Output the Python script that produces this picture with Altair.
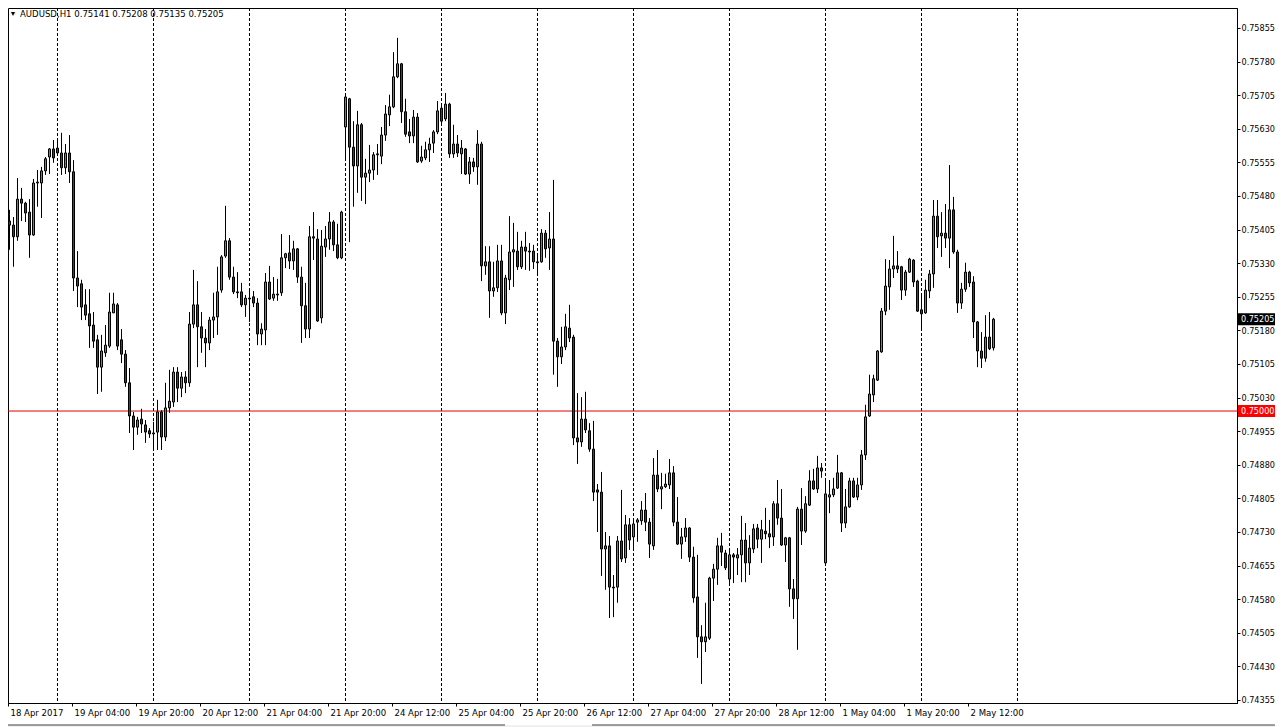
import altair as alt
import pandas as pd

symbol = "AUDUSD,H1"

x_labels = ["18 Apr 2017", "19 Apr 04:00", "19 Apr 20:00", "20 Apr 12:00", "21 Apr 04:00",
            "21 Apr 20:00", "24 Apr 12:00", "25 Apr 04:00", "25 Apr 20:00", "26 Apr 12:00",
            "27 Apr 04:00", "27 Apr 20:00", "28 Apr 12:00", "1 May 04:00", "1 May 20:00",
            "2 May 12:00"]

day_starts = [12, 36, 60, 84, 108, 132, 156, 180, 204, 228, 252]

y_ticks = [0.74355, 0.74430, 0.74505, 0.74580, 0.74655, 0.74730, 0.74805, 0.74880,
           0.74955, 0.75030, 0.75105, 0.75180, 0.75255, 0.75330, 0.75405, 0.75480,
           0.75555, 0.75630, 0.75705, 0.75780, 0.75855]

level_price = 0.75000

opens = [
    0.75424, 0.75415, 0.75389, 0.75473, 0.75464, 0.75444, 0.75393, 0.75509, 0.75509, 0.75536,
    0.75567, 0.75585, 0.75587, 0.75576, 0.75543, 0.75576, 0.75534, 0.75297, 0.75284, 0.75237,
    0.75217, 0.75192, 0.75159, 0.75098, 0.75130, 0.75145, 0.75219, 0.75237, 0.75159, 0.75127,
    0.75063, 0.74989, 0.74964, 0.74982, 0.74969, 0.74956, 0.74949, 0.74953, 0.74998, 0.74942,
    0.75007, 0.75020, 0.75087, 0.75051, 0.75076, 0.75063, 0.75194, 0.75237, 0.75188, 0.75163,
    0.75152, 0.75203, 0.75210, 0.75270, 0.75346, 0.75380, 0.75299, 0.75266, 0.75266, 0.75237,
    0.75252, 0.75255, 0.75241, 0.75172, 0.75181, 0.75288, 0.75252, 0.75261, 0.75264, 0.75342,
    0.75353, 0.75335, 0.75362, 0.75299, 0.75235, 0.75183, 0.75389, 0.75384, 0.75208, 0.75366,
    0.75384, 0.75422, 0.75371, 0.75342, 0.75634, 0.75697, 0.75589, 0.75547, 0.75639, 0.75522,
    0.75531, 0.75538, 0.75572, 0.75569, 0.75616, 0.75661, 0.75679, 0.75746, 0.75775, 0.75668,
    0.75623, 0.75614, 0.75656, 0.75558, 0.75565, 0.75583, 0.75598, 0.75623, 0.75676, 0.75652,
    0.75685, 0.75574, 0.75596, 0.75574, 0.75585, 0.75529, 0.75556, 0.75545, 0.75596, 0.75324,
    0.75333, 0.75268, 0.75275, 0.75335, 0.75219, 0.75293, 0.75355, 0.75357, 0.75322, 0.75366,
    0.75357, 0.75357, 0.75333, 0.75333, 0.75397, 0.75364, 0.75384, 0.75156, 0.75121, 0.75143,
    0.75185, 0.75165, 0.74940, 0.74931, 0.74982, 0.74956, 0.74915, 0.74824, 0.74819, 0.74692,
    0.74699, 0.74607, 0.74607, 0.74710, 0.74672, 0.74746, 0.74719, 0.74752, 0.74755, 0.74779,
    0.74752, 0.74699, 0.74857, 0.74826, 0.74831, 0.74835, 0.74862, 0.74752, 0.74703, 0.74719,
    0.74739, 0.74674, 0.74585, 0.74496, 0.74485, 0.74493, 0.74627, 0.74647, 0.74699, 0.74683,
    0.74625, 0.74679, 0.74672, 0.74679, 0.74712, 0.74661, 0.74692, 0.74739, 0.74714, 0.74732,
    0.74726, 0.74719, 0.74793, 0.74761, 0.74701, 0.74717, 0.74603, 0.74581, 0.74781, 0.74732,
    0.74790, 0.74844, 0.74826, 0.74873, 0.74661, 0.74808, 0.74813, 0.74828, 0.74862, 0.74750,
    0.74786, 0.74844, 0.74808, 0.74835, 0.74902, 0.74989, 0.75036, 0.75069, 0.75132, 0.75223,
    0.75277, 0.75317, 0.75324, 0.75322, 0.75270, 0.75310, 0.75337, 0.75290, 0.75226, 0.75219,
    0.75268, 0.75306, 0.75435, 0.75391, 0.75397, 0.75386, 0.75449, 0.75355, 0.75241, 0.75272,
    0.75310, 0.75288, 0.75199, 0.75134, 0.75118, 0.75165, 0.75141,
]

highs = [
    0.75449, 0.75433, 0.75520, 0.75498, 0.75467, 0.75473, 0.75518, 0.75538, 0.75545, 0.75567,
    0.75587, 0.75605, 0.75605, 0.75621, 0.75596, 0.75616, 0.75560, 0.75357, 0.75293, 0.75272,
    0.75272, 0.75221, 0.75170, 0.75170, 0.75192, 0.75264, 0.75264, 0.75241, 0.75183, 0.75136,
    0.75096, 0.74998, 0.74987, 0.75005, 0.74980, 0.74962, 0.74976, 0.75025, 0.75002, 0.75063,
    0.75092, 0.75098, 0.75098, 0.75087, 0.75089, 0.75221, 0.75315, 0.75290, 0.75221, 0.75183,
    0.75210, 0.75264, 0.75322, 0.75348, 0.75458, 0.75386, 0.75322, 0.75310, 0.75286, 0.75259,
    0.75270, 0.75268, 0.75252, 0.75196, 0.75308, 0.75324, 0.75299, 0.75295, 0.75395, 0.75353,
    0.75393, 0.75380, 0.75364, 0.75322, 0.75286, 0.75413, 0.75444, 0.75406, 0.75404, 0.75413,
    0.75444, 0.75426, 0.75418, 0.75447, 0.75706, 0.75699, 0.75647, 0.75670, 0.75643, 0.75563,
    0.75594, 0.75578, 0.75596, 0.75634, 0.75683, 0.75706, 0.75801, 0.75833, 0.75777, 0.75697,
    0.75652, 0.75672, 0.75665, 0.75592, 0.75601, 0.75610, 0.75627, 0.75692, 0.75681, 0.75710,
    0.75688, 0.75639, 0.75616, 0.75605, 0.75587, 0.75567, 0.75565, 0.75627, 0.75601, 0.75368,
    0.75368, 0.75333, 0.75371, 0.75371, 0.75304, 0.75435, 0.75420, 0.75400, 0.75380, 0.75400,
    0.75375, 0.75371, 0.75348, 0.75406, 0.75404, 0.75444, 0.75516, 0.75163, 0.75188, 0.75217,
    0.75237, 0.75170, 0.75040, 0.75031, 0.75043, 0.74973, 0.74978, 0.74837, 0.74864, 0.74730,
    0.74721, 0.74634, 0.74721, 0.74824, 0.74768, 0.74761, 0.74761, 0.74761, 0.74799, 0.74817,
    0.74761, 0.74895, 0.74913, 0.74862, 0.74860, 0.74893, 0.74877, 0.74808, 0.74739, 0.74761,
    0.74741, 0.74697, 0.74679, 0.74522, 0.74572, 0.74630, 0.74659, 0.74717, 0.74728, 0.74690,
    0.74694, 0.74683, 0.74694, 0.74766, 0.74750, 0.74723, 0.74748, 0.74748, 0.74757, 0.74784,
    0.74757, 0.74799, 0.74846, 0.74826, 0.74719, 0.74719, 0.74625, 0.74786, 0.74828, 0.74810,
    0.74868, 0.74871, 0.74900, 0.74884, 0.74846, 0.74846, 0.74851, 0.74902, 0.74864, 0.74826,
    0.74851, 0.74851, 0.74851, 0.74913, 0.75014, 0.75081, 0.75081, 0.75136, 0.75230, 0.75339,
    0.75337, 0.75391, 0.75357, 0.75324, 0.75315, 0.75342, 0.75339, 0.75293, 0.75257, 0.75293,
    0.75315, 0.75471, 0.75471, 0.75444, 0.75462, 0.75549, 0.75478, 0.75360, 0.75286, 0.75331,
    0.75313, 0.75301, 0.75201, 0.75176, 0.75214, 0.75221, 0.75208,
]

lows = [
    0.75360, 0.75322, 0.75380, 0.75424, 0.75422, 0.75342, 0.75391, 0.75456, 0.75431, 0.75527,
    0.75529, 0.75554, 0.75572, 0.75527, 0.75529, 0.75509, 0.75268, 0.75232, 0.75203, 0.75203,
    0.75141, 0.75141, 0.75038, 0.75043, 0.75121, 0.75141, 0.75219, 0.75136, 0.75107, 0.75054,
    0.74951, 0.74913, 0.74947, 0.74951, 0.74929, 0.74940, 0.74913, 0.74913, 0.74913, 0.74933,
    0.74996, 0.75009, 0.75020, 0.75031, 0.75040, 0.75054, 0.75185, 0.75098, 0.75130, 0.75098,
    0.75136, 0.75163, 0.75170, 0.75264, 0.75342, 0.75293, 0.75261, 0.75252, 0.75232, 0.75210,
    0.75199, 0.75232, 0.75147, 0.75147, 0.75147, 0.75248, 0.75246, 0.75246, 0.75257, 0.75319,
    0.75317, 0.75315, 0.75286, 0.75152, 0.75163, 0.75163, 0.75337, 0.75199, 0.75196, 0.75344,
    0.75360, 0.75357, 0.75339, 0.75339, 0.75560, 0.75377, 0.75456, 0.75487, 0.75469, 0.75462,
    0.75511, 0.75516, 0.75527, 0.75551, 0.75603, 0.75636, 0.75676, 0.75743, 0.75643, 0.75612,
    0.75598, 0.75598, 0.75554, 0.75554, 0.75560, 0.75556, 0.75576, 0.75618, 0.75639, 0.75647,
    0.75565, 0.75565, 0.75567, 0.75529, 0.75527, 0.75507, 0.75534, 0.75505, 0.75290, 0.75304,
    0.75208, 0.75255, 0.75266, 0.75214, 0.75194, 0.75270, 0.75277, 0.75315, 0.75317, 0.75315,
    0.75313, 0.75317, 0.75306, 0.75331, 0.75342, 0.75315, 0.75081, 0.75054, 0.75105, 0.75136,
    0.75154, 0.74924, 0.74882, 0.74920, 0.74951, 0.74909, 0.74799, 0.74730, 0.74632, 0.74601,
    0.74538, 0.74540, 0.74572, 0.74663, 0.74661, 0.74690, 0.74688, 0.74708, 0.74746, 0.74732,
    0.74672, 0.74690, 0.74819, 0.74781, 0.74828, 0.74826, 0.74743, 0.74701, 0.74670, 0.74708,
    0.74663, 0.74572, 0.74449, 0.74391, 0.74462, 0.74489, 0.74576, 0.74612, 0.74654, 0.74645,
    0.74614, 0.74616, 0.74634, 0.74618, 0.74618, 0.74634, 0.74683, 0.74694, 0.74661, 0.74714,
    0.74694, 0.74699, 0.74746, 0.74699, 0.74663, 0.74563, 0.74536, 0.74467, 0.74701, 0.74728,
    0.74788, 0.74824, 0.74817, 0.74851, 0.74656, 0.74772, 0.74808, 0.74826, 0.74730, 0.74739,
    0.74784, 0.74806, 0.74801, 0.74824, 0.74891, 0.74987, 0.75020, 0.75067, 0.75130, 0.75214,
    0.75226, 0.75297, 0.75308, 0.75248, 0.75257, 0.75308, 0.75277, 0.75221, 0.75181, 0.75217,
    0.75252, 0.75275, 0.75364, 0.75344, 0.75364, 0.75319, 0.75351, 0.75219, 0.75228, 0.75266,
    0.75277, 0.75163, 0.75098, 0.75096, 0.75110, 0.75136, 0.75135,
]

closes = [
    0.75415, 0.75389, 0.75473, 0.75464, 0.75442, 0.75393, 0.75509, 0.75511, 0.75536, 0.75563,
    0.75585, 0.75565, 0.75576, 0.75543, 0.75576, 0.75534, 0.75297, 0.75279, 0.75232, 0.75214,
    0.75190, 0.75156, 0.75098, 0.75134, 0.75147, 0.75221, 0.75239, 0.75145, 0.75127, 0.75063,
    0.74989, 0.74964, 0.74980, 0.74971, 0.74953, 0.74949, 0.74951, 0.74998, 0.74942, 0.75007,
    0.75022, 0.75087, 0.75051, 0.75076, 0.75063, 0.75194, 0.75237, 0.75188, 0.75163, 0.75152,
    0.75203, 0.75210, 0.75266, 0.75344, 0.75380, 0.75299, 0.75266, 0.75264, 0.75237, 0.75252,
    0.75250, 0.75241, 0.75172, 0.75183, 0.75288, 0.75250, 0.75261, 0.75259, 0.75342, 0.75351,
    0.75335, 0.75362, 0.75299, 0.75235, 0.75183, 0.75389, 0.75386, 0.75201, 0.75368, 0.75384,
    0.75422, 0.75371, 0.75342, 0.75444, 0.75701, 0.75589, 0.75547, 0.75639, 0.75522, 0.75531,
    0.75538, 0.75572, 0.75574, 0.75616, 0.75663, 0.75679, 0.75746, 0.75775, 0.75668, 0.75618,
    0.75614, 0.75656, 0.75556, 0.75567, 0.75583, 0.75596, 0.75623, 0.75670, 0.75647, 0.75685,
    0.75574, 0.75596, 0.75576, 0.75587, 0.75529, 0.75556, 0.75545, 0.75596, 0.75324, 0.75333,
    0.75268, 0.75275, 0.75335, 0.75219, 0.75297, 0.75355, 0.75360, 0.75322, 0.75366, 0.75357,
    0.75355, 0.75333, 0.75331, 0.75397, 0.75362, 0.75384, 0.75156, 0.75121, 0.75143, 0.75188,
    0.75163, 0.74940, 0.74931, 0.74982, 0.74958, 0.74915, 0.74819, 0.74819, 0.74692, 0.74699,
    0.74607, 0.74605, 0.74710, 0.74670, 0.74746, 0.74712, 0.74748, 0.74757, 0.74779, 0.74752,
    0.74703, 0.74857, 0.74826, 0.74831, 0.74837, 0.74862, 0.74752, 0.74703, 0.74719, 0.74739,
    0.74674, 0.74583, 0.74496, 0.74485, 0.74496, 0.74627, 0.74647, 0.74699, 0.74685, 0.74650,
    0.74679, 0.74674, 0.74679, 0.74712, 0.74661, 0.74694, 0.74737, 0.74714, 0.74735, 0.74726,
    0.74719, 0.74793, 0.74761, 0.74701, 0.74717, 0.74603, 0.74581, 0.74781, 0.74732, 0.74793,
    0.74844, 0.74826, 0.74873, 0.74866, 0.74815, 0.74813, 0.74826, 0.74862, 0.74750, 0.74786,
    0.74844, 0.74808, 0.74835, 0.74902, 0.74987, 0.75038, 0.75072, 0.75134, 0.75223, 0.75279,
    0.75317, 0.75324, 0.75317, 0.75270, 0.75310, 0.75339, 0.75288, 0.75223, 0.75217, 0.75270,
    0.75306, 0.75435, 0.75389, 0.75397, 0.75386, 0.75449, 0.75355, 0.75241, 0.75272, 0.75310,
    0.75286, 0.75199, 0.75134, 0.75118, 0.75165, 0.75139, 0.75205,
]

n = len(opens)
bars = pd.DataFrame({"i": list(range(n)), "o": opens, "h": highs, "l": lows, "c": closes})
bars["dir"] = ["up" if c >= o else "down" for o, c in zip(opens, closes)]

# plot area (page is 1283 wide with an 8px margin; keep svg <= 1267 wide)
W, H = 1229, 695
RP, BP = 38, 24
FONT = "DejaVu Sans Condensed, DejaVu Sans, sans-serif"
GREEN = "#00d200"
RED = "#e00000"

# 4 px per hourly bar, bar centres on half pixels for crisp 1px wicks
xs = alt.Scale(domain=[-0.375, -0.375 + W / 4], nice=False, zero=False, padding=0)
ys = alt.Scale(domain=[0.743483, 0.758996], nice=False, zero=False, padding=0)

label_expr = "[" + ",".join("'%s'" % s for s in x_labels) + "][round(datum.value / 16)]"
x_axis = alt.Axis(values=[16 * k for k in range(len(x_labels))], labelExpr=label_expr,
                  orient="bottom", title=None, grid=False, tickSize=3, tickColor="black",
                  tickOffset=-1.5, domainColor="black", labelColor="black", labelFont=FONT,
                  labelFontSize=9.5, labelAlign="left", labelBaseline="top", labelPadding=1,
                  labelOffset=2, labelFlush=False, labelOverlap=False)
y_axis = alt.Axis(values=y_ticks, format=".5f", orient="right", title=None, grid=False,
                  tickSize=3, tickColor="black", domainColor="black", labelColor="black",
                  labelFont=FONT, labelFontSize=9, labelAlign="left", labelBaseline="middle",
                  labelPadding=1, labelFlush=False, labelOverlap=False)

X = alt.X("i:Q", scale=xs, axis=x_axis)

seps = alt.Chart(pd.DataFrame({"i": day_starts})).mark_rule(
    color="black", strokeWidth=1, strokeDash=[3, 2]
).encode(x=X)

level = alt.Chart(pd.DataFrame({"p": [level_price]})).mark_rule(
    color=RED, strokeWidth=1
).encode(y=alt.Y("p:Q", scale=ys, axis=y_axis))

wicks = alt.Chart(bars).mark_rule(color="black", strokeWidth=1).encode(
    x=X,
    y=alt.Y("l:Q", scale=ys, axis=y_axis),
    y2="h:Q",
)

bodies = alt.Chart(bars).mark_bar(size=2, stroke="black", strokeWidth=1).encode(
    x=X,
    y=alt.Y("o:Q", scale=ys, axis=y_axis),
    y2="c:Q",
    color=alt.Color("dir:N", scale=alt.Scale(domain=["up", "down"], range=[GREEN, RED]), legend=None),
)

tags = pd.DataFrame({
    "p": [closes[-1], level_price],
    "lab": [f"{closes[-1]:.5f}", f"{level_price:.5f}"],
    "bg": ["black", "#ff0000"],
})
tag_box = alt.Chart(tags).mark_rect(yOffset=-6, y2Offset=6).encode(
    x=alt.value(W + 1), x2=alt.value(W + RP),
    y=alt.Y("p:Q", scale=ys, axis=y_axis), y2="p:Q",
    color=alt.Color("bg:N", scale=None),
)
tag_text = alt.Chart(tags).mark_text(
    align="left", baseline="middle", color="white", font=FONT, fontSize=9
).encode(x=alt.value(W + 4), y=alt.Y("p:Q", scale=ys, axis=y_axis), text="lab:N")

header = pd.DataFrame({"t": [f"{symbol}  {opens[-1]:.5f} {highs[-1]:.5f} {lows[-1]:.5f} {closes[-1]:.5f}"]})
head_text = alt.Chart(header).mark_text(
    align="left", baseline="middle", font=FONT, fontSize=9.5, color="black"
).encode(x=alt.value(12), y=alt.value(6), text="t:N")
tri = alt.Chart(pd.DataFrame({"t": ["▼"]})).mark_text(
    align="center", baseline="middle", fontSize=7, color="black"
).encode(x=alt.value(5), y=alt.value(6), text="t:N")

# bottom tab strip of the terminal window
strip_bg = alt.Chart(pd.DataFrame({"k": [0]})).mark_rect(color="#f0f0f0").encode(
    x=alt.value(-8), x2=alt.value(W + RP), y=alt.value(H + 22), y2=alt.value(H + BP))
strip_l = alt.Chart(pd.DataFrame({"k": [0]})).mark_rule(color="#404040").encode(
    x=alt.value(-8), x2=alt.value(497), y=alt.value(H + 22))
strip_r = alt.Chart(pd.DataFrame({"k": [0]})).mark_rule(color="#404040").encode(
    x=alt.value(584), x2=alt.value(W + RP), y=alt.value(H + 22))

chart = alt.layer(seps, level, wicks, bodies, tag_box, tag_text, tri, head_text,
                  strip_bg, strip_l, strip_r).properties(
    width=W, height=H,
    autosize=alt.AutoSizeParams(type="none"),
    padding={"left": 0, "top": 0, "right": RP, "bottom": BP},
    background="white",
).configure_view(stroke="black", strokeWidth=1)

chart.save("out.html", embed_options={"renderer": "svg", "actions": False})
